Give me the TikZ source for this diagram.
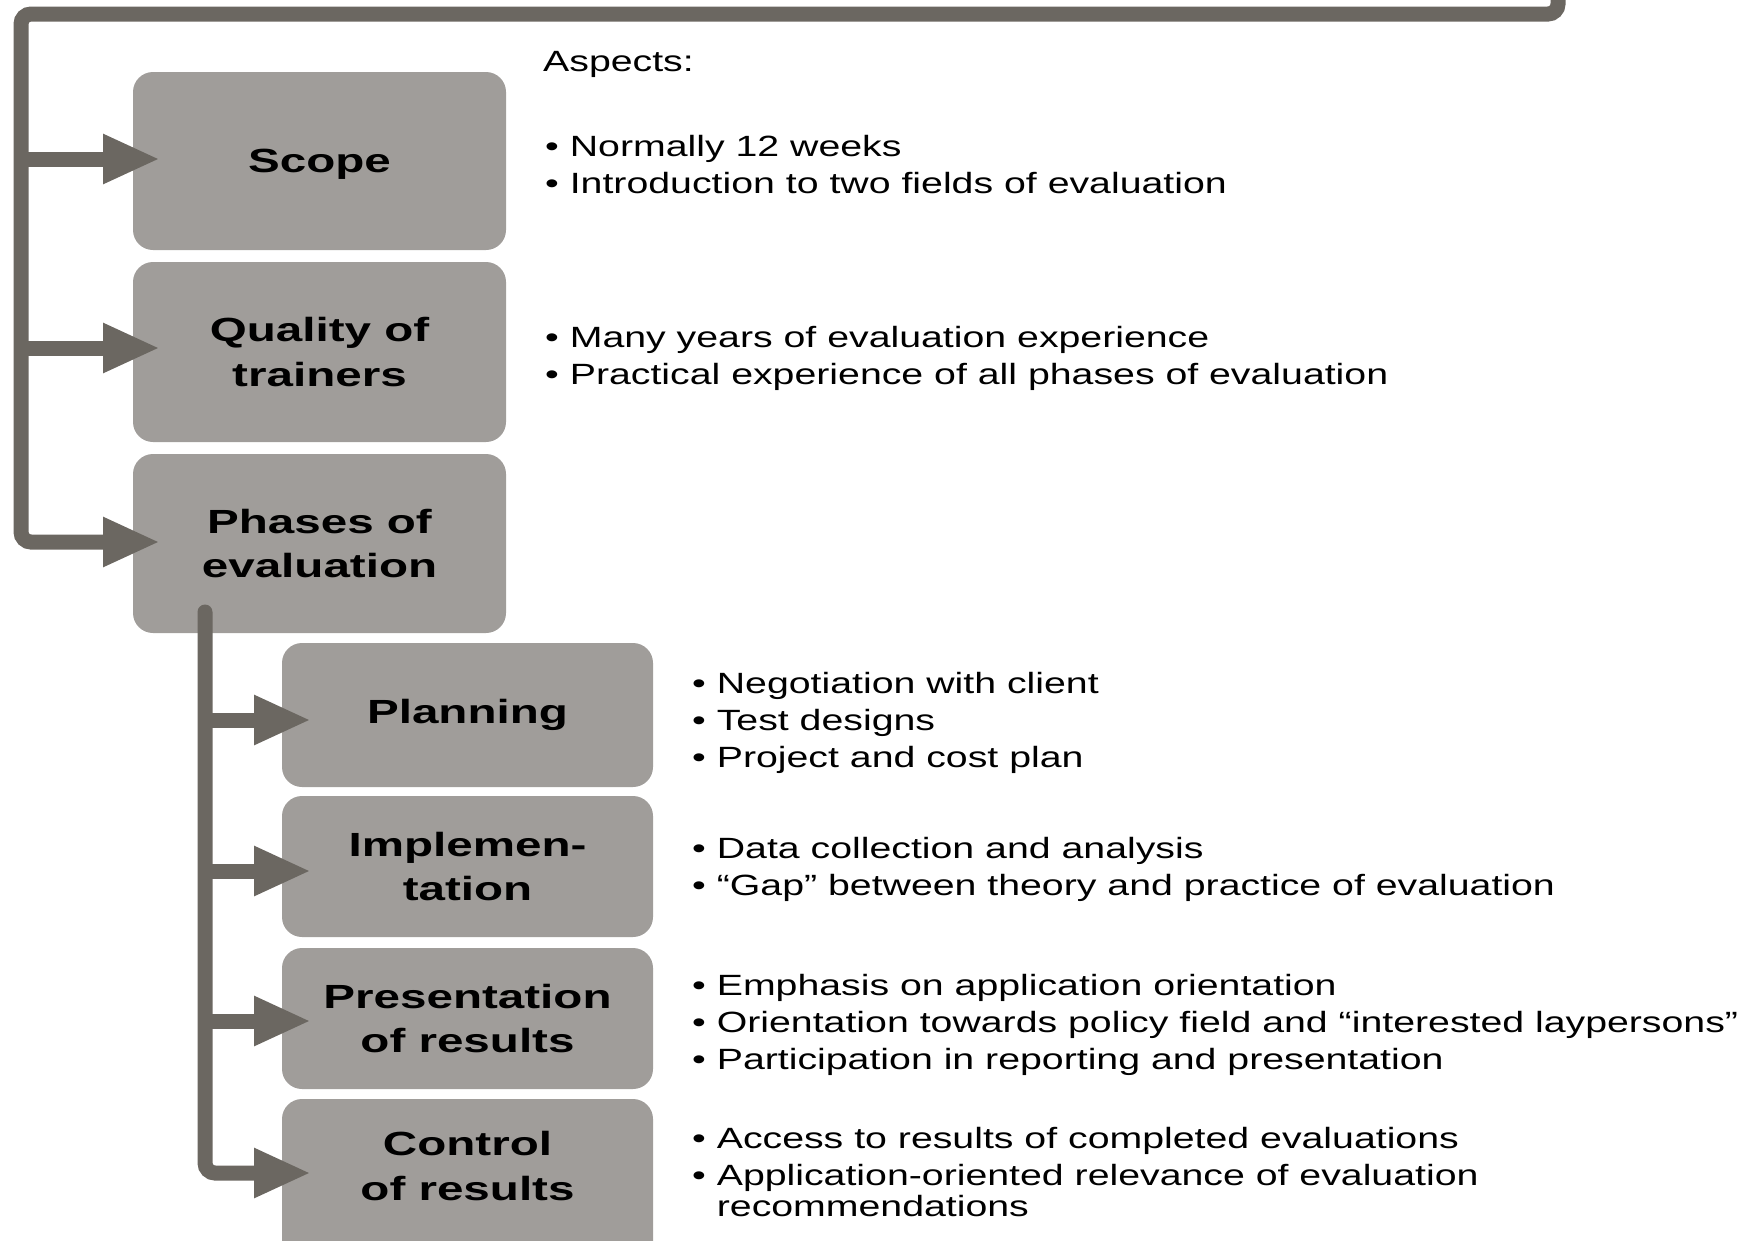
\documentclass[tikz,border=0pt]{standalone}
\usepackage{fontspec}
\setmainfont{Liberation Sans}[FakeStretch=1.34]
\newfontfamily\labelfont{Liberation Sans}[FakeStretch=1.42]
\usetikzlibrary{arrows.meta}
\definecolor{boxgray}{RGB}{160,157,154}
\definecolor{linegray}{RGB}{107,103,97}
\begin{document}
\begin{tikzpicture}[x=1pt,y=-1pt,
  box/.style={fill=boxgray, rounded corners=20pt, inner sep=0pt, outer sep=0pt},
  lbl/.style={font=\labelfont\bfseries\fontsize{33.5}{44.5}\selectfont, align=center, text=black},
  txt/.style={font=\fontsize{29.3}{35}\selectfont, anchor=base west, inner sep=0pt, text=black},
  conn/.style={draw=linegray, line width=15pt},
  arr/.style={conn, -{Triangle[length=57pt,width=46pt]}}
]
\useasboundingbox (0,0) rectangle (1744,1240);

% level 1 boxes
\node[box, lbl, text depth=0pt, minimum width=373pt, minimum height=178pt] (scope) at (319.5,161) {Scope};
\node[box, lbl, minimum width=373pt, minimum height=180pt] (quality) at (319.5,352) {Quality of\\trainers};
\node[box, lbl, minimum width=373pt, minimum height=179pt] (phases) at (319.5,543.5) {Phases of\\evaluation};

% level 2 boxes
\node[box, lbl, minimum width=371pt, minimum height=144pt] (planning) at (467.5,715) {Planning};
\node[box, lbl, minimum width=371pt, minimum height=141pt] (impl) at (467.5,866.5) {Implemen-\\tation};
\node[box, lbl, minimum width=371pt, minimum height=141pt] (pres) at (467.5,1018.5) {Presentation\\of results};
\node[box, minimum width=371pt, minimum height=170pt, anchor=north] (control) at (467.5,1099) {};
\node[lbl] (controltxt) at (467.5,1166) {Control\\of results};

% main connector
\coordinate (topright) at (1558,-30);
\coordinate (topleft) at (21,14);
\coordinate (v1a) at (21,159);
\coordinate (v1b) at (21,348);
\coordinate (v1c) at (21,542);
\path (scope.west |- v1a) ++(27pt,0) coordinate (t1a);
\path (quality.west |- v1b) ++(27pt,0) coordinate (t1b);
\path (phases.west |- v1c) ++(27pt,0) coordinate (t1c);
\draw[arr, rounded corners=10pt] (topright) |- (topleft) -- (v1c) -- (t1c);
\draw[arr] (v1a) -- (t1a);
\draw[arr] (v1b) -- (t1b);

% sub connector
\coordinate (v2top) at (205,612);
\coordinate (v2a) at (205,720);
\coordinate (v2b) at (205,871);
\coordinate (v2c) at (205,1021);
\coordinate (v2d) at (205,1173);
\path (planning.west |- v2a) ++(29pt,0) coordinate (t2a);
\path (impl.west |- v2b) ++(29pt,0) coordinate (t2b);
\path (pres.west |- v2c) ++(29pt,0) coordinate (t2c);
\path (control.west |- v2d) ++(29pt,0) coordinate (t2d);
\draw[arr, rounded corners=10pt, line cap=round] (v2top) -- (v2d) -- (t2d);
\draw[arr] (v2a) -- (t2a);
\draw[arr] (v2b) -- (t2b);
\draw[arr] (v2c) -- (t2c);

% texts
\node[txt] (aspects) at (543,71) {Aspects:};
\node[txt] (sc1) at (545,156) {• Normally 12 weeks};
\node[txt] (sc2) at (545,193) {• Introduction to two fields of evaluation};
\node[txt] (qu1) at (545,347) {• Many years of evaluation experience};
\node[txt] (qu2) at (545,384) {• Practical experience of all phases of evaluation};
\node[txt] (pl1) at (692,693) {• Negotiation with client};
\node[txt] (pl2) at (692,730) {• Test designs};
\node[txt] (pl3) at (692,767) {• Project and cost plan};
\node[txt] (im1) at (692,858) {• Data collection and analysis};
\node[txt] (im2) at (692,895) {• “Gap” between theory and practice of evaluation};
\node[txt] (pr1) at (692,995) {• Emphasis on application orientation};
\node[txt] (pr2) at (692,1032) {• Orientation towards policy field and “interested laypersons”};
\node[txt] (pr3) at (692,1069) {• Participation in reporting and presentation};
\node[txt] (co1) at (692,1148) {• Access to results of completed evaluations};
\node[txt] (co2) at (692,1185) {• Application-oriented relevance of evaluation};
\node[txt] (co3) at (692,1216) {\phantom{• }recommendations};
\end{tikzpicture}
\end{document}
